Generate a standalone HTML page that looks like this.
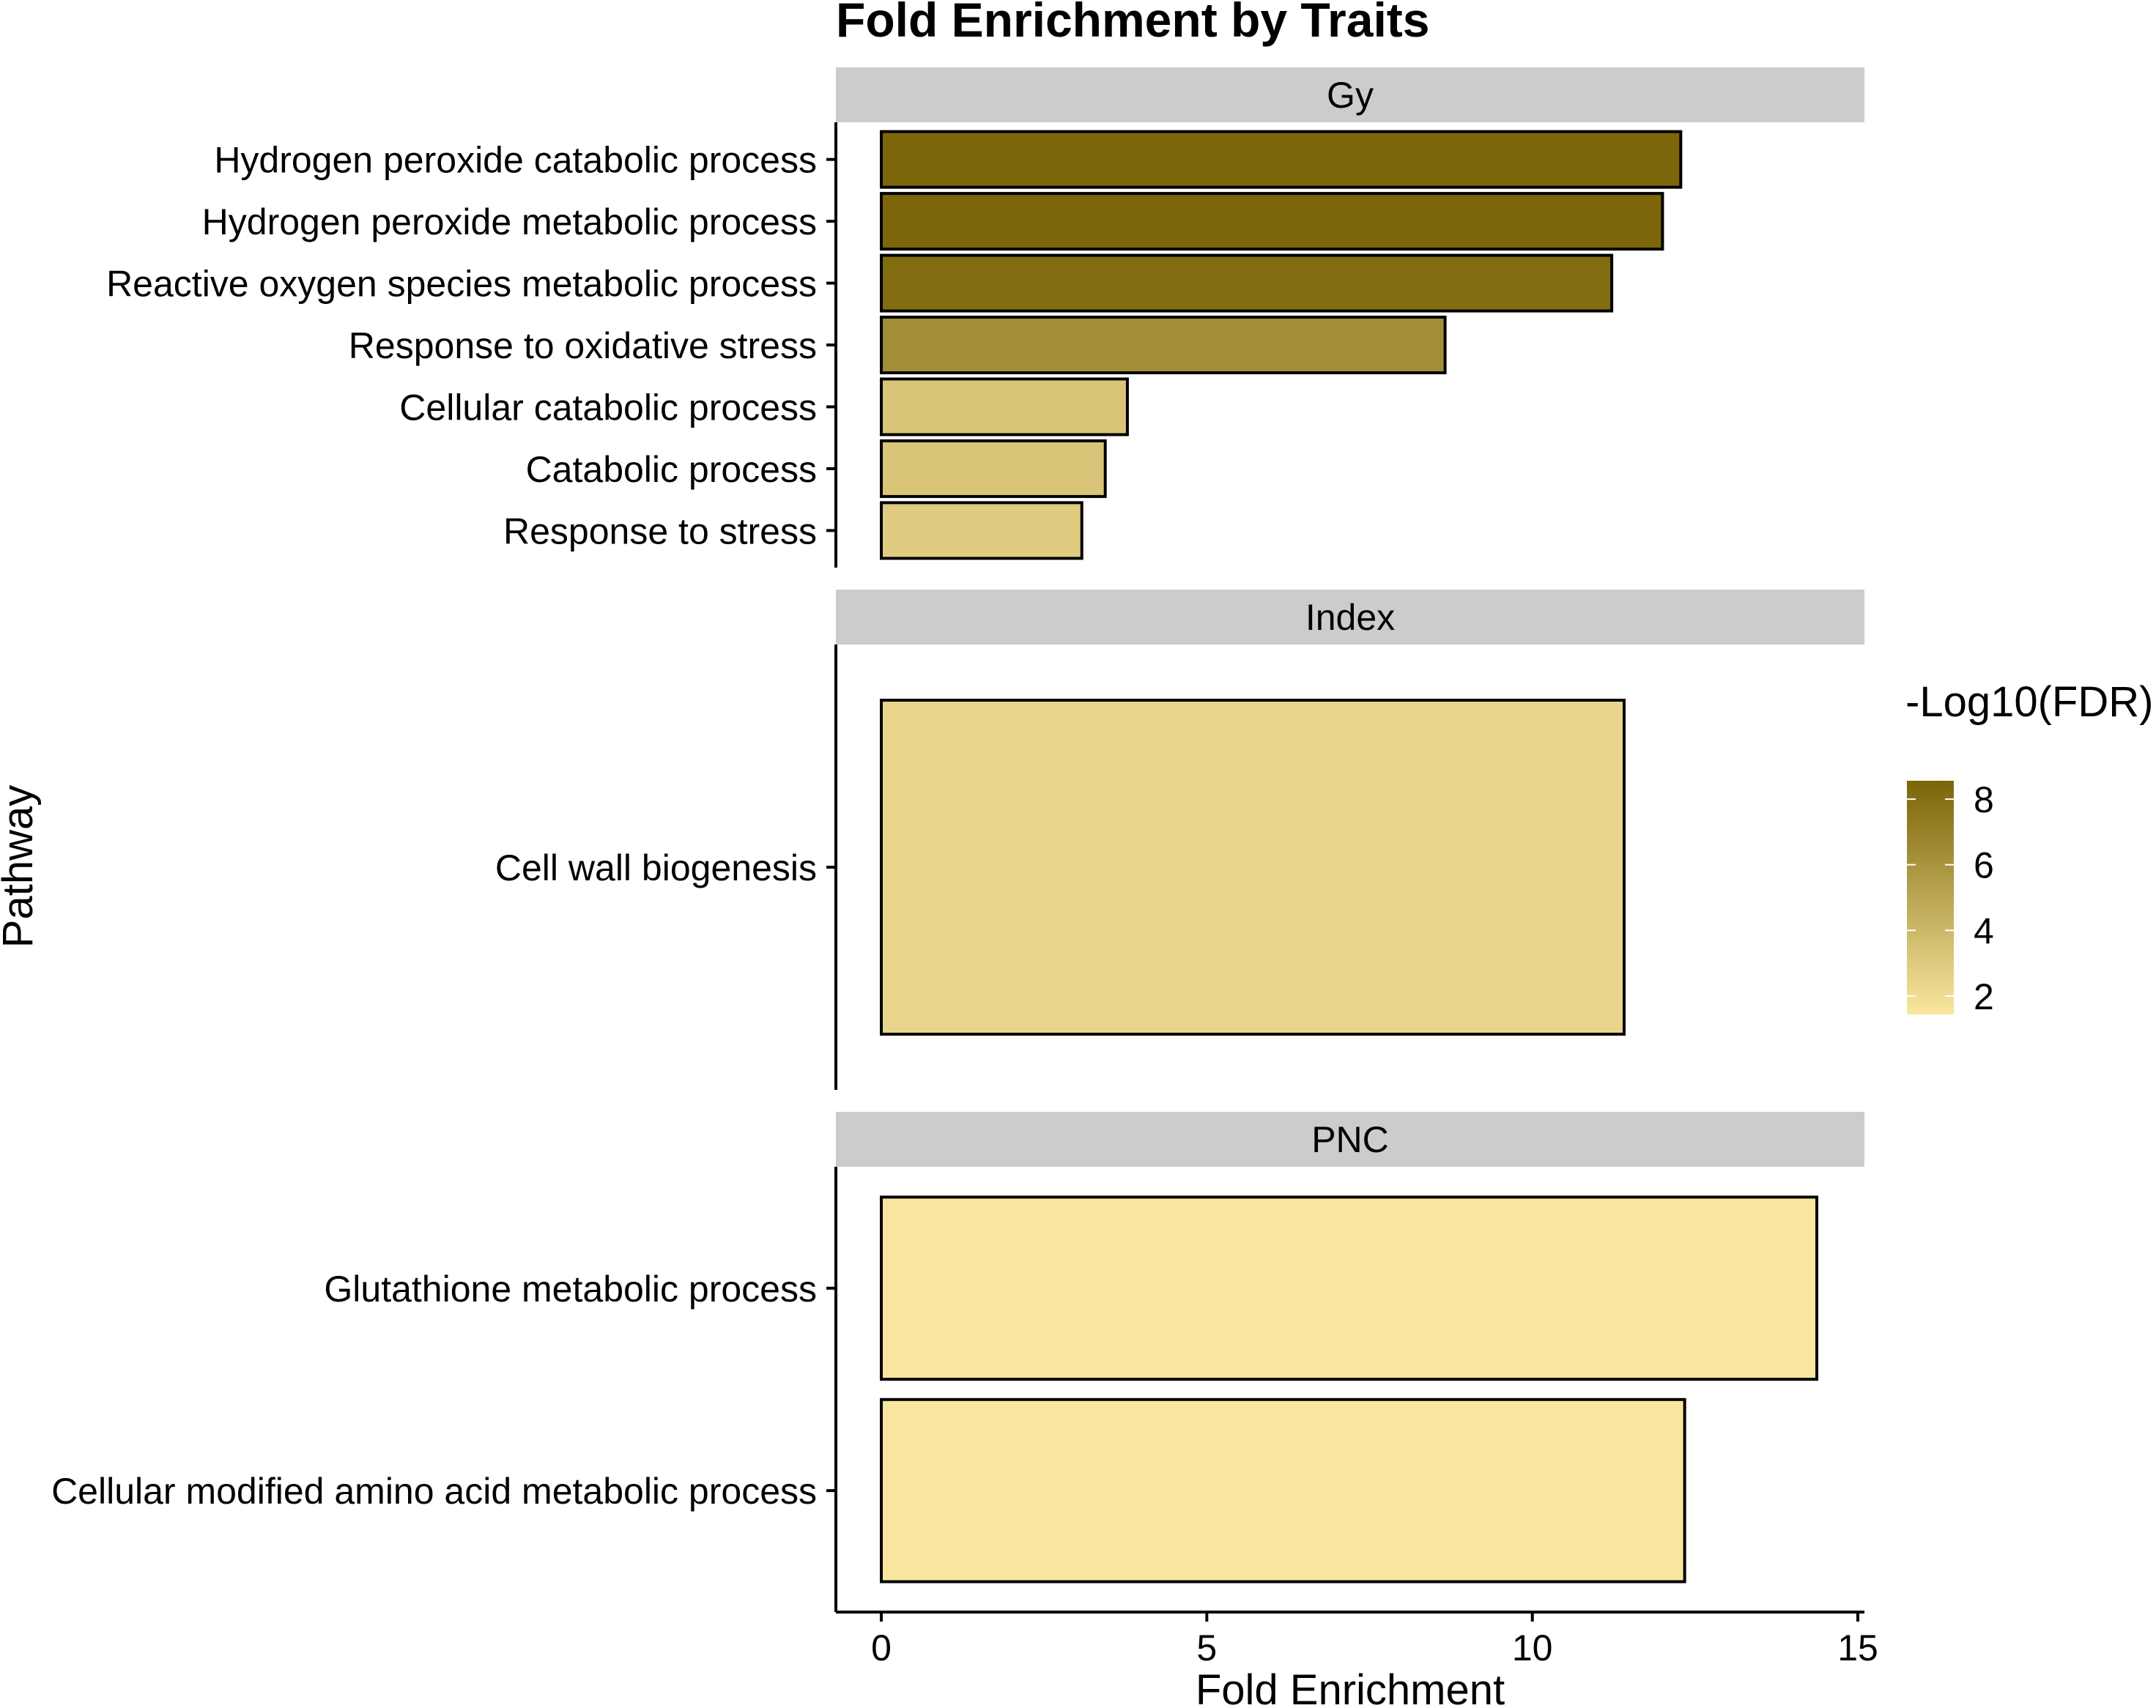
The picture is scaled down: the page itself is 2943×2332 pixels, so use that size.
<!DOCTYPE html>
<html><head><meta charset="utf-8"><style>
html,body{margin:0;padding:0;background:#fff}
svg{display:block;font-family:"Liberation Sans",Arial,sans-serif}
</style></head><body>
<svg id="chart" width="2943" height="2332" viewBox="0 0 2943 2332" xmlns="http://www.w3.org/2000/svg">
<defs><linearGradient id="lg" x1="0" y1="1" x2="0" y2="0"><stop offset="0" stop-color="#F9E79F"/><stop offset="1" stop-color="#7B6508"/></linearGradient></defs>
<text x="1141" y="50" font-size="66" font-weight="bold">Fold Enrichment by Traits</text>
<g id="panels"></g>
<text transform="translate(44,1183) rotate(-90)" text-anchor="middle" font-size="58">Pathway</text>
<text x="1843" y="2327" text-anchor="middle" font-size="58">Fold Enrichment</text>
<g>
<text x="2601" y="978" font-size="58">-Log10(FDR)</text>
<rect x="2603" y="1066" width="64" height="319" fill="url(#lg)"/>
<g id="legend-ticks"></g>
</g>
</svg>
<script>
const gyCategories = ["Hydrogen peroxide catabolic process","Hydrogen peroxide metabolic process","Reactive oxygen species metabolic process","Response to oxidative stress","Cellular catabolic process","Catabolic process","Response to stress"];
const gyValues = [12.28, 12.0, 11.22, 8.66, 3.78, 3.44, 3.08];
const gyFdr = [8.5, 8.5, 8.2, 6.3, 3.3, 3.3, 2.9];
const indexCategories = ["Cell wall biogenesis"];
const indexValues = [11.41];
const indexFdr = [2.4];
const pncCategories = ["Glutathione metabolic process","Cellular modified amino acid metabolic process"];
const pncValues = [14.37, 12.34];
const pncFdr = [1.5, 1.5];
const xTicks = [0, 5, 10, 15];
const legendTicks = [2, 4, 6, 8];

const NS="http://www.w3.org/2000/svg";
const svg=document.getElementById('chart');
const g=document.getElementById('panels');
function mk(tag,attrs,parent){const e=document.createElementNS(NS,tag);for(const k in attrs)e.setAttribute(k,attrs[k]);(parent||g).appendChild(e);return e;}
const X0=1203, X15=2536;
function xs(v){return X0+(X15-X0)*v/15;}
const fMin=1.44,fMax=8.56;
const lo=[249,231,159],hi=[123,101,8];
function col(f){let t=(f-fMin)/(fMax-fMin);t=Math.max(0,Math.min(1,t));return 'rgb('+lo.map((c,i)=>Math.round(c+(hi[i]-c)*t)).join(',')+')';}
const PL=1141,PR=2545;
const panels=[
 {name:'Gy',cats:gyCategories,vals:gyValues,fdr:gyFdr,top:92},
 {name:'Index',cats:indexCategories,vals:indexValues,fdr:indexFdr,top:805},
 {name:'PNC',cats:pncCategories,vals:pncValues,fdr:pncFdr,top:1518}
];
panels.forEach((p,pi)=>{
 const key=p.name.toLowerCase();
 const strip=mk('rect',{x:PL,y:p.top,width:PR-PL,height:75,fill:'#CCCCCC'});
 
 
 const st=mk('text',{x:(PL+PR)/2,y:p.top+55,'text-anchor':'middle','font-size':50});
 st.textContent=p.name;
 
 
 const pt=p.top+75, pb=pt+608;
 const n=p.cats.length, unit=608/(n+0.2);
 const ax=mk('line',{x1:PL,y1:pt,x2:PL,y2:pb,stroke:'#000','stroke-width':4});
 
 
 p.cats.forEach((c,i)=>{
  const cy=pt+unit*(0.6+i);
  const h=unit*0.9;
  const b=mk('rect',{x:xs(0),y:cy-h/2,width:xs(p.vals[i])-xs(0),height:h,fill:col(p.fdr[i]),stroke:'#000','stroke-width':4});
  
  
  const tk=mk('line',{x1:PL-13,y1:cy,x2:PL,y2:cy,stroke:'#000','stroke-width':4});
  
  
  const t=mk('text',{x:PL-26,y:cy+18,'text-anchor':'end','font-size':50});
  t.textContent=c;
  
  
 });
 if(pi===2){
  const xa=mk('line',{x1:PL,y1:pb,x2:PR,y2:pb,stroke:'#000','stroke-width':4});
  
  
  xTicks.forEach(v=>{
   const tl=mk('line',{x1:xs(v),y1:pb,x2:xs(v),y2:pb+13,stroke:'#000','stroke-width':4});
   
   
   const tt=mk('text',{x:xs(v),y:pb+66,'text-anchor':'middle','font-size':50});
   tt.textContent=v;
   
   
  });
 }
});
const lgt=document.getElementById('legend-ticks');
function ly(v){return 1385-(v-fMin)/(fMax-fMin)*319;}
legendTicks.forEach(v=>{
 const y=ly(v);
 const a=mk('line',{x1:2603,y1:y,x2:2615,y2:y,stroke:'#fff','stroke-width':2},lgt);
 
 
 const b=mk('line',{x1:2655,y1:y,x2:2667,y2:y,stroke:'#fff','stroke-width':2},lgt);
 
 
 const t=mk('text',{x:2694,y:y+18,'font-size':50},lgt);
 t.textContent=v;
 
 
});
</script>
</body></html>
